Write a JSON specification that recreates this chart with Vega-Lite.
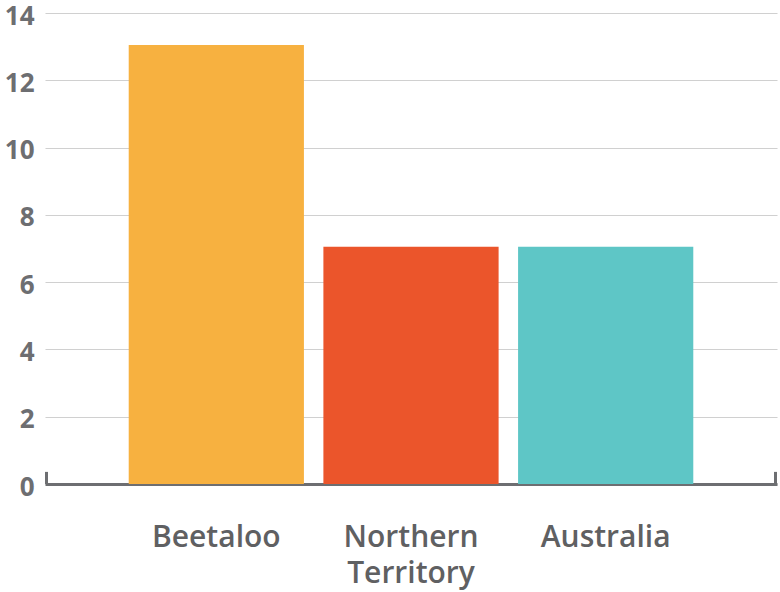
{
  "$schema": "https://vega.github.io/schema/vega-lite/v6.json",
  "autosize": "none",
  "width": 732,
  "height": 471,
  "padding": {"left": 45, "top": 13, "right": 3, "bottom": 108},
  "background": "white",
  "config": {"view": {"stroke": null}},
  "layer": [
    {
      "data": {"values": [
        {"region": "Beetaloo", "value": 13.05},
        {"region": "Northern Territory", "value": 7.05},
        {"region": "Australia", "value": 7.05}
      ]},
      "mark": {"type": "bar"},
      "encoding": {
        "x": {
          "field": "region", "type": "nominal", "sort": null,
          "scale": {"paddingInner": 0.1, "paddingOuter": 0.43},
          "axis": {
            "title": null, "labelAngle": 0, "ticks": false,
            "domainColor": "#6d6e71", "domainWidth": 3,
            "labelFont": "Open Sans", "labelFontSize": 30, "labelFontWeight": 600,
            "labelColor": "#5f6062", "labelPadding": 38, "labelLineHeight": 36,
            "labelExpr": "datum.value == 'Northern Territory' ? ['Northern', 'Territory'] : datum.value"
          }
        },
        "y": {
          "field": "value", "type": "quantitative",
          "scale": {"domain": [0, 14]},
          "axis": {
            "title": null, "values": [0, 2, 4, 6, 8, 10, 12, 14],
            "domain": false, "ticks": false, "grid": true,
            "gridColor": "#d0d0d0", "gridWidth": 1.2,
            "labelFont": "Open Sans", "labelFontSize": 26, "labelFontWeight": "bold",
            "labelColor": "#6d6e71", "labelPadding": 11, "labelBaseline": "middle", "labelOffset": 3
          }
        },
        "color": {
          "field": "region", "type": "nominal", "sort": null, "legend": null,
          "scale": {"domain": ["Beetaloo", "Northern Territory", "Australia"], "range": ["#f7b140", "#eb552b", "#5ec6c6"]}
        }
      }
    },
    {
      "data": {"values": [
        {"pos": 0, "lo": 0, "hi": 0.36},
        {"pos": 1, "lo": 0, "hi": 0.36}
      ]},
      "mark": {"type": "rule", "color": "#6d6e71", "strokeWidth": 3},
      "encoding": {
        "x": {"field": "pos", "type": "quantitative", "scale": {"domain": [0, 1], "range": [1.5, 730.5]}, "axis": null},
        "y": {"field": "lo", "type": "quantitative"},
        "y2": {"field": "hi"}
      }
    }
  ],
  "resolve": {"scale": {"x": "independent"}}
}
